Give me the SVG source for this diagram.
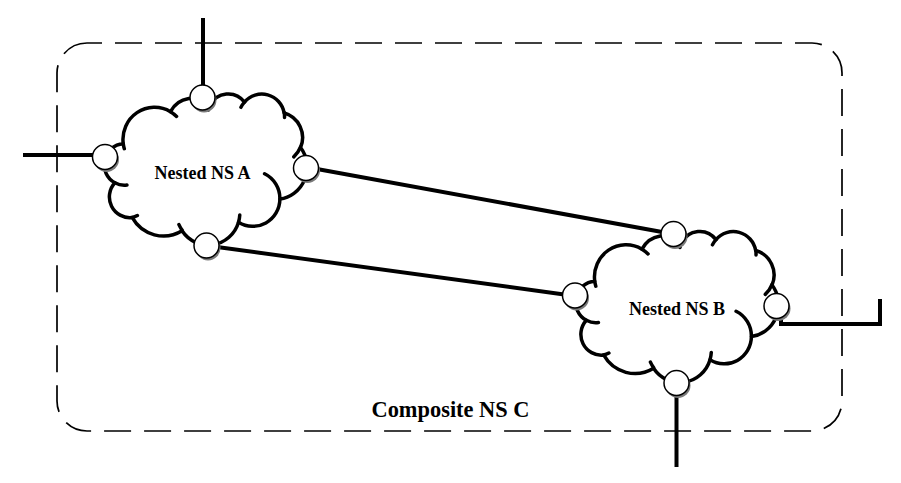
<svg xmlns="http://www.w3.org/2000/svg" xmlns:xlink="http://www.w3.org/1999/xlink" width="901" height="483" viewBox="0 0 901 483">
<defs>
<style>
.bg{fill:#fff}
.frame{fill:none;stroke:#000;stroke-width:1.7;stroke-dasharray:27 13;stroke-dashoffset:12}
.link{fill:none;stroke:#000;stroke-width:4;stroke-linejoin:miter;stroke-linecap:butt}
.cloud{fill:#fff;stroke:#000;stroke-width:3.5;stroke-linejoin:round}
.hooks{fill:none;stroke:#000;stroke-width:3.5;stroke-linecap:round}
.port{fill:#fff;stroke:#000;stroke-width:1.5}
.shadow{fill:#7a7a7a}
.lbl{font-family:"Liberation Serif","Times New Roman",serif;font-weight:bold;fill:#000;text-anchor:middle}
</style>
<path id="cloudShape" d="M18.24 50.23 A31.58 32.12 0 0 1 65.49 18.18 A24.94 25.40 0 0 1 105.00 12.00 A20.41 20.78 0 0 1 139.50 8.67 A22.71 23.05 0 0 1 179.17 19.49 A24.94 25.42 0 0 1 195.54 54.04 A31.68 32.23 0 0 1 174.90 105.57 A27.05 27.50 0 0 1 133.53 128.67 A31.57 32.21 0 0 1 77.06 137.24 A36.10 36.85 0 0 1 27.13 123.98 A20.39 20.69 0 0 1 9.88 89.29 A20.32 20.78 0 0 1 18.24 50.23 Z"/>
<path id="cloudHooks" d="M21.94 91.50 A20.32 20.78 0 0 1 9.88 89.29 M32.39 121.99 A20.39 20.69 0 0 1 27.13 123.98 M77.05 136.63 A31.57 32.21 0 0 1 73.94 131.16 M134.79 121.47 A31.57 32.21 0 0 1 133.53 128.67 M159.58 80.23 A27.05 27.50 0 0 1 174.90 105.57 M195.44 53.67 A24.94 25.42 0 0 1 188.77 63.39 M179.20 18.97 A22.71 23.05 0 0 1 179.53 23.91 M135.97 13.81 A22.71 23.05 0 0 1 139.50 8.67 M103.53 16.50 A20.41 20.78 0 0 1 105.00 12.00 M65.46 18.15 A31.58 32.12 0 0 1 71.56 22.89 M19.30 55.19 A31.58 32.12 0 0 1 18.24 50.23"/>
</defs>
<rect class="bg" x="0" y="0" width="901" height="483"/>
<g id="compositeC">
<rect class="frame" x="57" y="43" width="785" height="388" rx="30" ry="30"/>
<text class="lbl" x="450.5" y="417" font-size="23" textLength="158" lengthAdjust="spacingAndGlyphs">Composite NS C</text>
</g>
<g id="connectors">
<line class="link" x1="203" y1="18" x2="203" y2="96"/>
<line class="link" x1="23" y1="155" x2="104" y2="155"/>
<line class="link" x1="306" y1="167" x2="673" y2="234"/>
<line class="link" x1="206" y1="245.5" x2="575" y2="296"/>
<polyline class="link" points="781,312 781,324 880,324 880,299"/>
<line class="link" x1="676.5" y1="383" x2="676.5" y2="467"/>
</g>
<g id="nestedA">
<g transform="translate(105 93.5)">
<use xlink:href="#cloudShape" class="cloud"/>
<use xlink:href="#cloudHooks" class="hooks"/>
</g>
<text class="lbl" x="202.5" y="179" font-size="19" textLength="96" lengthAdjust="spacingAndGlyphs">Nested NS A</text>
<circle class="shadow" cx="204" cy="100" r="12.5"/><circle class="port" cx="202.5" cy="97.5" r="12.5"/>
<circle class="shadow" cx="106.5" cy="159.5" r="12.5"/><circle class="port" cx="105" cy="157" r="12.5"/>
<circle class="shadow" cx="307.5" cy="170.5" r="12.5"/><circle class="port" cx="306" cy="168" r="12.5"/>
<circle class="shadow" cx="208" cy="248" r="12.5"/><circle class="port" cx="206.5" cy="245.5" r="12.5"/>
</g>
<g id="nestedB">
<g transform="translate(576.5 231)">
<use xlink:href="#cloudShape" class="cloud"/>
<use xlink:href="#cloudHooks" class="hooks"/>
</g>
<text class="lbl" x="677" y="315" font-size="19" textLength="96" lengthAdjust="spacingAndGlyphs">Nested NS B</text>
<circle class="shadow" cx="675" cy="236.5" r="12.5"/><circle class="port" cx="673.5" cy="234" r="12.5"/>
<circle class="shadow" cx="576.5" cy="298" r="12.5"/><circle class="port" cx="575" cy="295.5" r="12.5"/>
<circle class="shadow" cx="778" cy="308.5" r="12.5"/><circle class="port" cx="776.5" cy="306" r="12.5"/>
<circle class="shadow" cx="678" cy="385.5" r="12.5"/><circle class="port" cx="676.5" cy="383" r="12.5"/>
</g>
</svg>
